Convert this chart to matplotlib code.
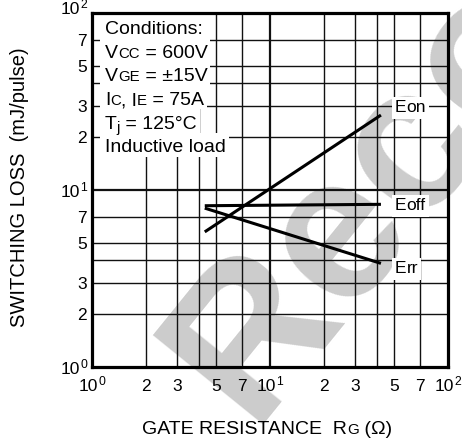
import matplotlib
matplotlib.use("Agg")
import matplotlib.pyplot as plt
from matplotlib.transforms import IdentityTransform
from matplotlib.patches import Rectangle

plt.rcParams['font.family'] = ['Liberation Sans', 'DejaVu Sans']

# ---------------- data ----------------
rg = [4.3, 42.0]                 # gate resistance (ohm)
e_on = [5.8, 26.5]               # mJ/pulse
e_off = [8.15, 8.3]
e_rr = [7.9, 3.85]
series_names = [("E", "on"), ("E", "off"), ("E", "rr")]
label_x = 50.4
label_y = [27.6, 7.71, 3.40]
minor_grid = [2, 3, 4, 5, 7]
decades = [1, 10]
minor_labels = ["2", "3", "5", "7"]
cond_lines = [
    [("Conditions:", 14, 0)],
    [("V", 14, 0), ("CC", 10.8, 0), (" = 600V", 14, 0)],
    [("V", 14, 0), ("GE", 10.8, 0), (" = \u00b115V", 14, 0)],
    [("I", 14, 0), ("C", 10.8, 0), (", I", 14, 0), ("E", 10.8, 0), (" = 75A", 14, 0)],
    [("T", 14, 0), ("j", 10.8, -3.5), (" = 125\u00b0C", 14, 0)],
    [("Inductive load", 14, 0)],
]

W, H = 462, 441
fig = plt.figure(figsize=(W / 100, H / 100), dpi=100)
ax = fig.add_axes([92 / W, 1 - 367 / H, 356 / W, 354 / H])
ax.set_xscale('log'); ax.set_yscale('log')
ax.set_xlim(1, 100); ax.set_ylim(1, 100)
ax.xaxis.set_major_locator(matplotlib.ticker.NullLocator())
ax.xaxis.set_minor_locator(matplotlib.ticker.NullLocator())
ax.yaxis.set_major_locator(matplotlib.ticker.NullLocator())
ax.yaxis.set_minor_locator(matplotlib.ticker.NullLocator())
ax.patch.set_alpha(0)
for s in ax.spines.values():
    s.set_linewidth(2.3); s.set_zorder(6)

# grid
for d in decades:
    for m in minor_grid:
        ax.axvline(d * m, color='#111111', lw=1.0, zorder=2)
        ax.axhline(d * m, color='#111111', lw=1.0, zorder=2)
ax.axvline(10, color='#111111', lw=1.6, zorder=2)
ax.axhline(10, color='#111111', lw=1.6, zorder=2)

# data
for ys in (e_on, e_off, e_rr):
    ax.plot(rg, ys, color='k', lw=2.2, solid_capstyle='butt', zorder=3)

renderer = fig.canvas.get_renderer()
ident = IdentityTransform()


def runs(x0, y0, parts, ha='left', color='k', zorder=5):
    """x0,y0 display pixels of baseline; parts (text,size,dy_px up)."""
    items = []
    x = 0.0
    for s, size, dy in parts:
        t = ax.text(0, 0, s, fontsize=size, ha='left', va='baseline',
                    transform=ident, color=color, zorder=zorder, clip_on=False)
        w = t.get_window_extent(renderer).width
        items.append((t, x, dy))
        x += w
    shift = {'left': 0, 'center': -x / 2, 'right': -x}[ha]
    for t, xo, dy in items:
        t.set_position((x0 + shift + xo, y0 + dy))
    return x0 + shift, x


def white_box(x0, x1, ytop_px, ybot_px):
    ax.add_patch(Rectangle((x0, H - ybot_px), x1 - x0, ybot_px - ytop_px,
                           transform=ident, facecolor='white', edgecolor='none',
                           zorder=2.5, clip_on=False))


# conditions block
base = 34.0
for i, parts in enumerate(cond_lines):
    bl = base + i * 23.7
    xs, w = runs(105, H - bl, parts)
    top = 15 if i == 0 else bl - 20
    white_box(100, xs + w + 3, top, bl + 4)

# series labels
for (big, small), ly in zip(series_names, label_y):
    xd, yd = ax.transData.transform((label_x, ly))
    xs, w = runs(xd, yd, [(big, 12.5, 0), (small, 12.5, 0)])
    white_box(xs - 3, xs + w + 3, H - yd - 15, H - yd + 7)

# tick labels
for d in decades + [100]:
    xd, _ = ax.transData.transform((d, 1))
    exp = str(len(str(d)) - 1)
    runs(xd, H - 391, [("10", 12.5, 0), (exp, 8.8, 6)], ha='center')
    _, yd = ax.transData.transform((1, d))
    off = 1.3 if d == 100 else 7
    runs(87, yd - off, [("10", 12.5, 0), (exp, 8.8, 6)], ha='right')
for d in decades:
    for lab in minor_labels:
        v = d * int(lab)
        xd, yd = ax.transData.transform((v, v))
        runs(xd, H - 391, [(lab, 12.5, 0)], ha='center')
        runs(87, yd - 6, [(lab, 12.5, 0)], ha='right')

# axis labels
fig.text(25 / W, 1 - 187.5 / H, "SWITCHING LOSS  (mJ/pulse)", rotation=90,
         ha='center', va='baseline', rotation_mode='anchor', fontsize=14.5)
xs, w = runs(142, H - 434, [("GATE RESISTANCE  R", 14, 0), ("G", 11, 0), (" (\u03a9)", 14, 0)])

# watermark
fig.text(250 / W, 1 - 425 / H, "Recommended", rotation=51, rotation_mode='anchor',
         ha='left', va='baseline', fontsize=148, fontweight='bold',
         color='#cccccc', zorder=-1)

fig.savefig("out.png", dpi=100)
